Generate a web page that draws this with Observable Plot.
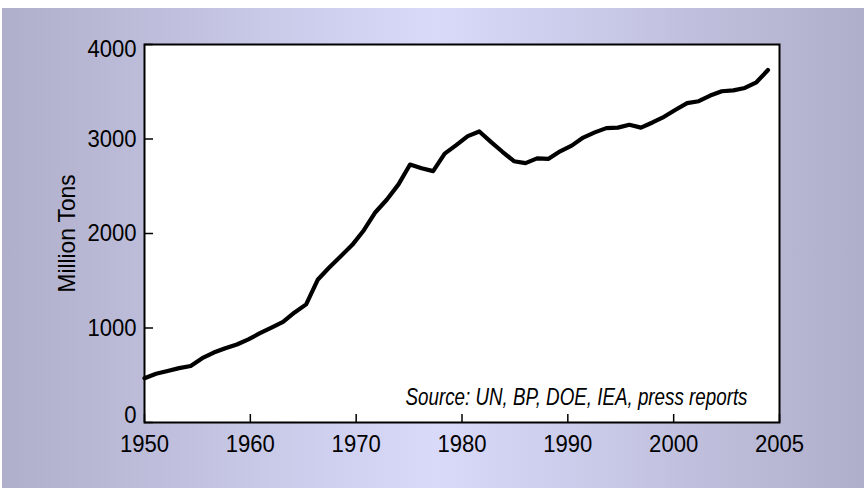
<!DOCTYPE html>
<html>
<head>
<meta charset="utf-8">
<script src="https://cdn.jsdelivr.net/npm/d3@7"></script>
<script src="https://cdn.jsdelivr.net/npm/@observablehq/plot@0.6"></script>
<style>
  html, body { margin: 0; padding: 0; background: white; }
</style>
</head>
<body>
<div id="chart"></div>
<script>
// World oil consumption, million tons
const years = [1950,1951,1952,1953,1954,1955,1956,1957,1958,1959,
               1960,1961,1962,1963,1964,1965,1966,1967,1968,1969,
               1970,1971,1972,1973,1974,1975,1976,1977,1978,1979,
               1980,1981,1982,1983,1984,1985,1986,1987,1988,1989,
               1990,1991,1992,1993,1994,1995,1996,1997,1998,1999,
               2000,2001,2002,2003,2004];
const oil = [469,515,545,575,598,680,740,785,825,880,
             945,1005,1065,1165,1250,1510,1640,1760,1880,2035,
             2225,2360,2520,2730,2690,2660,2845,2935,3030,3080,
             2970,2865,2765,2745,2795,2790,2870,2930,3015,3070,
             3115,3120,3150,3120,3175,3235,3310,3380,3400,3460,
             3505,3515,3540,3600,3730];

const xDomain = [1950, 2005];
const xTickLabels = ["1950","1960","1970","1980","1990","2000","2005"];
const yTicks = [0, 1000, 2000, 3000, 4000];
const yLabel = "Million Tons";
const source = "Source: UN, BP, DOE, IEA, press reports";

const data = years.map((y, i) => ({year: y, value: oil[i]}));
// the original axis spaces its seven labels evenly across the frame
const xTickPos = xTickLabels.map((_, i) => xDomain[0] + i * (xDomain[1] - xDomain[0]) / (xTickLabels.length - 1));
const labelOf = new Map(xTickPos.map((p, i) => [p, xTickLabels[i]]));

const chart = Plot.plot({
  width: 864,
  height: 488,
  marginLeft: 144,
  marginRight: 85,
  marginTop: 44,
  marginBottom: 66,
  style: {
    fontFamily: "'Liberation Sans', Arial, sans-serif",
    fontSize: "24px",
    color: "black",
    background: "linear-gradient(to right, #afafcb 0%, #d9d9fa 50%, #afafcb 100%) 2px 8px / calc(100% - 2px) calc(100% - 8px) no-repeat, white"
  },
  x: {domain: xDomain, label: null},
  y: {domain: [0, 4000], label: null},
  marks: [
    Plot.frame({fill: "white"}),
    Plot.axisX(xTickPos, {tickSize: 8, text: null, label: null, dy: -8, strokeWidth: 1.5}),
    Plot.axisX(xTickPos, {tickSize: 0, tickPadding: 12, fontSize: 24, tickFormat: d => labelOf.get(d), label: null, className: "xlab"}),
    Plot.axisY(yTicks, {tickSize: 9, text: null, label: null, dx: 9, strokeWidth: 1.5}),
    Plot.axisY(yTicks, {tickSize: 0, tickPadding: 8, fontSize: 24, tickFormat: d => String(d), label: null, className: "ylab"}),
    Plot.text([yLabel], {frameAnchor: "left", rotate: -90, dx: -77, textAnchor: "middle", lineAnchor: "middle", text: d => d, fontSize: 24, className: "ytitle"}),
    Plot.line(data, {x: "year", y: "value", stroke: "black", strokeWidth: 4.2}),
    Plot.text([source], {frameAnchor: "bottom-right", dx: -32, dy: -18, textAnchor: "end", lineAnchor: "bottom", fontStyle: "italic", fontSize: 23, text: d => d, className: "src"}),
    Plot.frame({stroke: "black", strokeWidth: 2})
  ]
});
document.getElementById("chart").appendChild(chart);

// the original uses a narrow face: compress the text horizontally
function condense(sel, factor) {
  chart.querySelectorAll(sel).forEach(t => {
    const w = t.getComputedTextLength();
    t.setAttribute("textLength", (w * factor).toFixed(1));
    t.setAttribute("lengthAdjust", "spacingAndGlyphs");
  });
}
condense(".xlab text", 0.92);
condense(".ylab text", 0.92);
chart.querySelectorAll(".ytitle text").forEach(t => {
  t.setAttribute("textLength", 118);
  t.setAttribute("lengthAdjust", "spacingAndGlyphs");
});
chart.querySelectorAll(".src text").forEach(t => {
  t.setAttribute("textLength", 342);
  t.setAttribute("lengthAdjust", "spacingAndGlyphs");
});

// the end labels of the y axis sit inside the frame, as in the original
chart.querySelectorAll(".ylab text").forEach(t => {
  const shift = t.textContent === "0" ? -7 : t.textContent === "4000" ? 5 : 0;
  if (shift) t.setAttribute("transform", (t.getAttribute("transform") || "") + ` translate(0,${shift})`);
});
</script>
</body>
</html>
